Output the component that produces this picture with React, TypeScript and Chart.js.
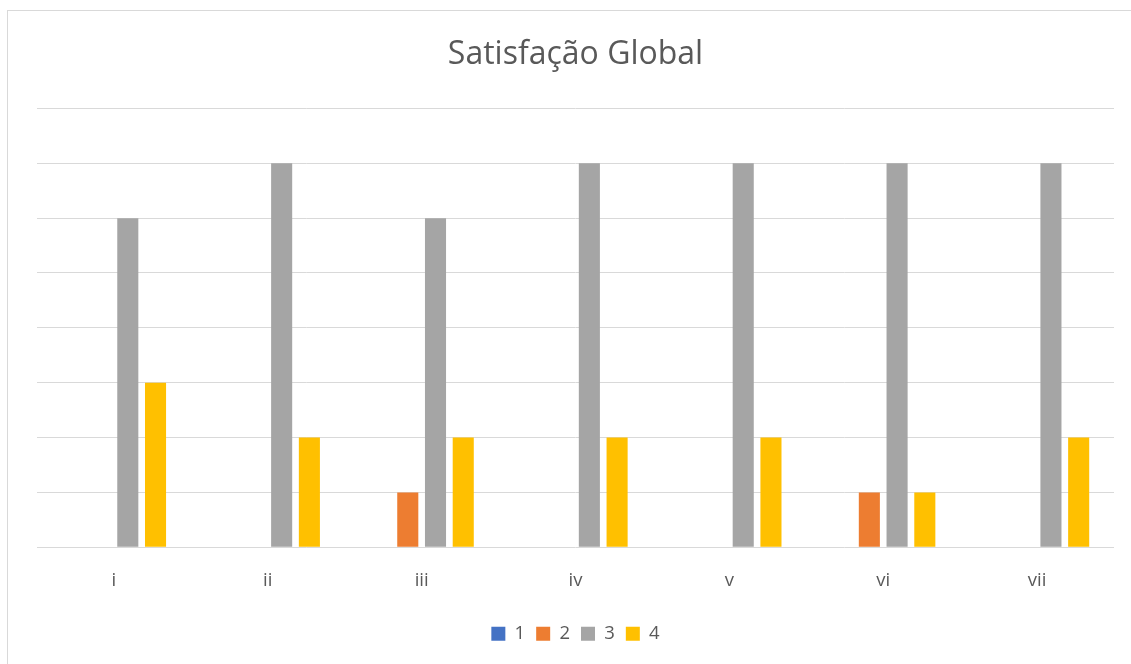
import React, { useEffect, useRef } from "react";
import { Chart, registerables } from "chart.js";

Chart.register(...registerables);

const categories = ["i", "ii", "iii", "iv", "v", "vi", "vii"];
const seriesNames = ["1", "2", "3", "4"];
const series1 = [0, 0, 0, 0, 0, 0, 0];
const series2 = [0, 0, 1, 0, 0, 1, 0];
const series3 = [6, 7, 6, 7, 7, 7, 7];
const series4 = [3, 2, 2, 2, 2, 1, 2];
const seriesColors = ["#4472C4", "#ED7D31", "#A5A5A5", "#FFC000"];

const FONT = "'Open Sans', 'Liberation Sans', sans-serif";
const TEXT = "#595959";
const GRID = "#D9D9D9";

export default function App() {
  const canvasRef = useRef<HTMLCanvasElement | null>(null);

  useEffect(() => {
    if (!canvasRef.current) return;
    const values = [series1, series2, series3, series4];
    const chart = new Chart(canvasRef.current, {
      type: "bar",
      data: {
        labels: categories,
        datasets: values.map((data, i) => ({
          label: seriesNames[i],
          data,
          backgroundColor: seriesColors[i],
          borderWidth: 0,
          categoryPercentage: 0.721,
          barPercentage: 0.76,
        })),
      },
      options: {
        animation: false,
        responsive: false,
        maintainAspectRatio: false,
        layout: { padding: { left: 29, right: 18, top: 0, bottom: 14 } },
        plugins: {
          title: {
            display: true,
            text: "Satisfação Global",
            color: TEXT,
            font: { family: FONT, size: 32, weight: "normal" },
            padding: { top: 25, bottom: 34 },
          },
          legend: {
            position: "bottom",
            labels: {
              color: TEXT,
              font: { family: FONT, size: 18.5 },
              boxWidth: 14,
              boxHeight: 14,
              padding: 11,
            },
          },
          tooltip: { enabled: false },
        },
        scales: {
          x: {
            grid: { display: false, drawTicks: false },
            border: { display: false },
            ticks: { color: TEXT, font: { family: FONT, size: 18.5 }, padding: 22 },
          },
          y: {
            min: 0,
            max: 8,
            ticks: { display: false, stepSize: 1 },
            grid: { color: GRID, lineWidth: 1, drawTicks: false },
            border: { display: false },
          },
        },
      },
    });
    return () => chart.destroy();
  }, []);

  return (
    <div
      style={{
        position: "absolute",
        left: 7,
        top: 10,
        width: 1124,
        height: 656,
        border: "1px solid #D9D9D9",
        background: "#fff",
      }}
    >
      <canvas ref={canvasRef} width={1124} height={656} style={{ display: "block" }} />
    </div>
  );
}
